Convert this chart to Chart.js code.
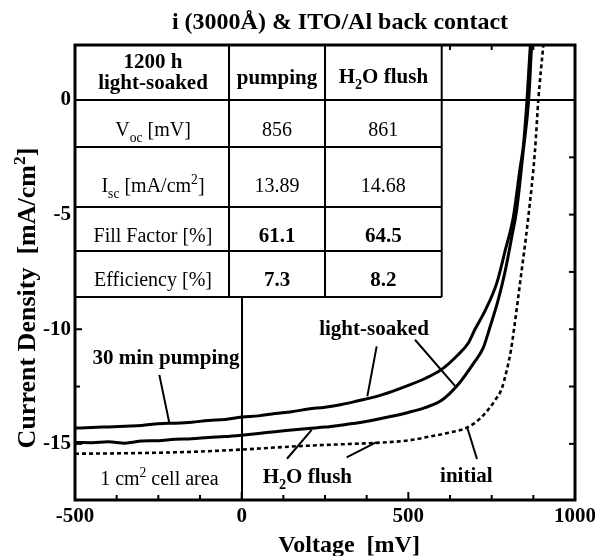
<!DOCTYPE html>
<html><head><meta charset="utf-8">
<script src="https://cdn.jsdelivr.net/npm/chart.js@4/dist/chart.umd.min.js"></script>
<style>html,body{margin:0;padding:0;background:#fff}</style>
</head><body>
<canvas id="c" width="595" height="556"></canvas>
<script>
// ---------- data ----------
const pumpingV = [-500,-450,-400,-350,-300,-250,-200,-150,-100,-50,0,50,100,150,200,250,300,350,400,450,500,550,600,650,680,700,730,765,790,815,835,845,856,866,875];
const pumpingJ = [-14.31,-14.29,-14.26,-14.23,-14.2,-14.12,-14.1,-14.06,-13.98,-13.94,-13.83,-13.78,-13.68,-13.6,-13.48,-13.4,-13.28,-13.12,-12.95,-12.72,-12.45,-12.15,-11.75,-11.1,-10.6,-10.0,-9.2,-8.0,-6.6,-5.1,-3.0,-2.0,0,2.4,4.0];
const flushV = [-500,-450,-400,-350,-300,-250,-200,-150,-100,-50,0,50,100,150,200,250,300,350,400,450,500,550,600,650,695,725,743,770,790,810,825,845,861,870,878];
const flushJ = [-14.94,-14.95,-14.91,-14.97,-14.88,-14.86,-14.8,-14.78,-14.72,-14.68,-14.62,-14.55,-14.47,-14.4,-14.33,-14.27,-14.18,-14.08,-13.95,-13.8,-13.63,-13.42,-13.1,-12.4,-11.5,-10.8,-10.0,-8.7,-7.5,-6.0,-4.8,-2.2,0,2.4,4.0];
const initialV = [-500,-400,-300,-200,-100,0,100,200,300,400,500,565,620,675,715,740,760,780,795,808,817,835,860,880,890,905,915];
const initialJ = [-15.43,-15.42,-15.4,-15.37,-15.32,-15.25,-15.16,-15.08,-15.02,-14.96,-14.85,-14.68,-14.52,-14.3,-13.9,-13.5,-13.1,-12.6,-11.8,-10.9,-10.0,-8.0,-5.1,-2.2,0,2.4,4.0];

const xMajorLabels = [-500, 0, 500, 1000];
const yMajorLabels = [0, -5, -10, -15];

const tableHeader = ['1200 h', 'light-soaked', 'pumping', 'H2O flush'];
const rowLabels = ['Voc [mV]', 'Isc [mA/cm2]', 'Fill Factor [%]', 'Efficiency [%]'];
const pumpingValues = ['856', '13.89', '61.1', '7.3'];
const flushValues = ['861', '14.68', '64.5', '8.2'];

const chartTitle = 'i (3000Å) & ITO/Al back contact';
const xTitle = 'Voltage  [mV]';
const yTitle = 'Current Density  [mA/cm2]';

// ---------- helpers ----------
const SERIF = '"Liberation Serif","Times New Roman",serif';
const pts = (xs, ys) => xs.map((v, i) => ({x: v, y: ys[i]}));
function font(size, bold) { return (bold ? 'bold ' : '') + size + 'px ' + SERIF; }
function richWidth(ctx, parts, size, bold) {
  let w = 0;
  parts.forEach(([t, m]) => { ctx.font = font(m ? size * 0.68 : size, bold); w += ctx.measureText(t).width; });
  return w;
}
function drawRich(ctx, parts, cx, by, size, bold) {
  const w = richWidth(ctx, parts, size, bold);
  let x = cx - w / 2;
  ctx.textAlign = 'left'; ctx.textBaseline = 'alphabetic';
  parts.forEach(([t, m]) => {
    const s = m ? size * 0.68 : size;
    ctx.font = font(s, bold);
    const dy = m === 'sub' ? size * 0.28 : (m === 'sup' ? -size * 0.38 : 0);
    ctx.fillText(t, x, by + dy);
    x += ctx.measureText(t).width;
  });
}
function parseRich(str) {
  if (str === 'Voc [mV]') return [['V',''],['oc','sub'],[' [mV]','']];
  if (str === 'Isc [mA/cm2]') return [['I',''],['sc','sub'],[' [mA/cm',''],['2','sup'],[']','']];
  if (str === 'H2O flush') return [['H',''],['2','sub'],['O flush','']];
  if (str === '1 cm2 cell area') return [['1 cm',''],['2','sup'],[' cell area','']];
  if (str === 'Current Density  [mA/cm2]') return [['Current Density  [mA/cm',''],['2','sup'],[']','']];
  return [[str, '']];
}

const annotations = [
  {text: '30 min pumping', x: -227, y: -11.2, bold: true, size: 21},
  {text: 'light-soaked', x: 397, y: -9.94, bold: true, size: 21},
  {text: 'H2O flush', x: 197, y: -16.42, bold: true, size: 21},
  {text: 'initial', x: 674, y: -16.35, bold: true, size: 21},
  {text: '1 cm2 cell area', x: -247, y: -16.48, bold: false, size: 20}
];
const leaders = [
  [-247, -11.99, -217, -14.09],
  [405, -10.75, 377, -12.93],
  [520, -10.46, 640, -12.47],
  [136, -15.65, 210, -14.39],
  [315, -15.59, 403, -14.94],
  [706, -15.66, 677, -14.31]
];

const decor = {
  id: 'decor',
  afterDatasetsDraw(chart) {
    const {ctx, chartArea: a, scales: {x, y}} = chart;
    ctx.save();
    ctx.strokeStyle = '#000'; ctx.fillStyle = '#000';
    const seg = (x1, y1, x2, y2) => { ctx.beginPath(); ctx.moveTo(x1, y1); ctx.lineTo(x2, y2); ctx.stroke(); };
    ctx.lineWidth = 2;
    x.ticks.forEach(t => {
      const v = t.value; if (v <= x.min || v >= x.max) return;
      const p = x.getPixelForValue(v);
      const major = xMajorLabels.includes(v);
      seg(p, a.bottom, p, a.bottom - (major ? 8 : 5));
      seg(p, a.top, p, a.top + (major ? 7 : 5));
    });
    y.ticks.forEach(t => {
      const v = t.value; if (v <= y.min || v >= y.max) return;
      const p = y.getPixelForValue(v);
      const major = yMajorLabels.includes(v);
      seg(a.left, p, a.left + (major ? 7 : 5), p);
      seg(a.right, p, a.right - 6, p);
    });
    // table
    const cols = [a.left, a.left + 154, a.left + 250, a.left + 366.7];
    const rows = [a.top, a.top + 55, a.top + 102, a.top + 162, a.top + 206, a.top + 252];
    ctx.fillStyle = '#fff';
    ctx.fillRect(cols[0], rows[0], cols[3] - cols[0], rows[5] - rows[0]);
    ctx.lineWidth = 2;
    rows.forEach(r => seg(cols[0], r, cols[3], r));
    cols.forEach(c => seg(c, rows[0], c, rows[5]));
    ctx.fillStyle = '#000';
    const cc = [(cols[0] + cols[1]) / 2 + 1, (cols[1] + cols[2]) / 2, (cols[2] + cols[3]) / 2];
    drawRich(ctx, parseRich(tableHeader[0]), cc[0], rows[0] + 23, 21, true);
    drawRich(ctx, parseRich(tableHeader[1]), cc[0], rows[0] + 44, 21, true);
    drawRich(ctx, parseRich(tableHeader[2]), cc[1], rows[0] + 39, 21, true);
    drawRich(ctx, parseRich(tableHeader[3]), cc[2], rows[0] + 38, 21, true);
    const baseOff = [36, 45, 35, 35];
    rowLabels.forEach((lab, i) => {
      const by = rows[i + 1] + baseOff[i];
      const b = i >= 2;
      drawRich(ctx, parseRich(lab), cc[0], by, 20, false);
      drawRich(ctx, parseRich(pumpingValues[i]), cc[1], by, b ? 21 : 20, b);
      drawRich(ctx, parseRich(flushValues[i]), cc[2], by, b ? 21 : 20, b);
    });
    // frame
    ctx.lineWidth = 3;
    ctx.strokeRect(a.left, a.top, a.right - a.left, a.bottom - a.top);
    // annotations
    ctx.lineWidth = 2;
    leaders.forEach(([x1, y1, x2, y2]) => seg(x.getPixelForValue(x1), y.getPixelForValue(y1), x.getPixelForValue(x2), y.getPixelForValue(y2)));
    annotations.forEach(an => {
      const px = x.getPixelForValue(an.x), py = y.getPixelForValue(an.y);
      drawRich(ctx, parseRich(an.text), px, py + 7, an.size, an.bold);
    });
    ctx.restore();
  },
  afterDraw(chart) {
    const {ctx} = chart;
    ctx.save(); ctx.fillStyle = '#000';
    drawRich(ctx, parseRich(chartTitle), 340, 29, 24, true);
    drawRich(ctx, parseRich(xTitle), 349, 552, 24, true);
    ctx.translate(35, 298); ctx.rotate(-Math.PI / 2);
    drawRich(ctx, parseRich(yTitle), 0, 0, 26, true);
    ctx.restore();
  }
};

const common = {showLine: true, pointRadius: 0, borderColor: '#000', fill: false, cubicInterpolationMode: 'monotone'};
new Chart(document.getElementById('c'), {
  type: 'scatter',
  data: {
    datasets: [
      Object.assign({label: '30 min pumping', data: pts(pumpingV, pumpingJ), borderWidth: 3}, common),
      Object.assign({label: 'H2O flush', data: pts(flushV, flushJ), borderWidth: 3}, common),
      Object.assign({label: 'initial', data: pts(initialV, initialJ), borderWidth: 2.6, borderDash: [4, 3]}, common)
    ]
  },
  options: {
    responsive: false, animation: false, devicePixelRatio: 1,
    layout: {padding: {left: 0, right: 20, top: 45, bottom: 0}},
    plugins: {legend: {display: false}, title: {display: false}, tooltip: {enabled: false}},
    scales: {
      x: {
        type: 'linear', min: -500, max: 1000,
        border: {display: false},
        grid: {drawTicks: false, lineWidth: 2, color: c => (c.tick && c.tick.value === 0) ? '#000' : 'rgba(0,0,0,0)'},
        ticks: {stepSize: 125, autoSkip: false, maxRotation: 0, includeBounds: false, padding: 4, color: '#000',
          font: {family: SERIF, size: 21, weight: 'bold'},
          callback: v => xMajorLabels.includes(v) ? String(v) : ''},
        afterFit: s => { s.height = 56; s.paddingLeft = 0; s.paddingRight = 0; }
      },
      y: {
        type: 'linear', min: -17.45, max: 2.4,
        border: {display: false},
        grid: {drawTicks: false, lineWidth: 2, color: c => (c.tick && c.tick.value === 0) ? '#000' : 'rgba(0,0,0,0)'},
        ticks: {stepSize: 2.5, autoSkip: false, includeBounds: false, padding: 4, color: '#000',
          font: {family: SERIF, size: 21, weight: 'bold'},
          callback: v => yMajorLabels.includes(v) ? String(v) : ''},
        afterFit: s => { s.width = 75; s.paddingTop = 0; s.paddingBottom = 0; }
      }
    }
  },
  plugins: [decor]
});
</script>
</body></html>
